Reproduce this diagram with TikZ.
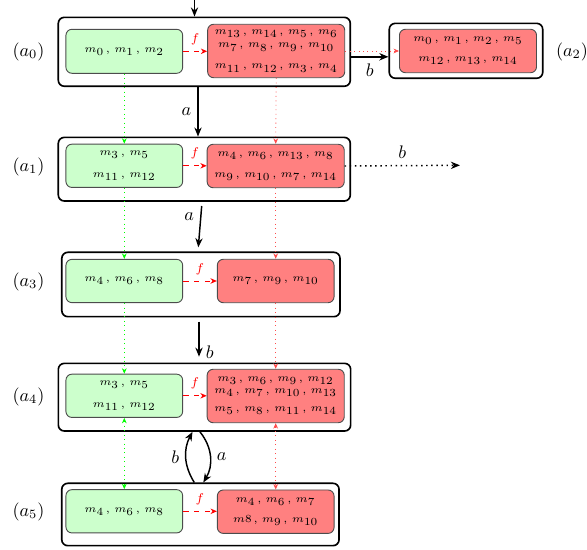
\documentclass[tikz,border=0pt]{standalone}
\usetikzlibrary{arrows.meta}
\DeclareMathSizes{6}{6}{6}{6}
\newcommand{\mysep}{\hspace{1pt},\hspace{1.2pt}}
\newcommand{\boxfont}{\fontsize{6}{7}\selectfont}
\begin{document}
\begin{tikzpicture}[x=0.55pt,y=-0.55pt,
  outer/.style={draw=black,line width=0.9pt,rounded corners=3.3pt,inner sep=0pt},
  gbox/.style={draw=black!70,fill=green!20,line width=0.5pt,rounded corners=3.3pt,inner sep=0pt,font=\boxfont,align=center,minimum width=64.2pt,minimum height=23.8pt},
  rbox/.style={draw=black!70,fill=red!50,line width=0.5pt,rounded corners=3.3pt,inner sep=0pt,font=\boxfont,align=center},
  rsmall/.style={rbox,minimum width=64.2pt,minimum height=23.9pt},
  rmid/.style={rbox,minimum width=75.4pt,minimum height=23.9pt},
  rbig/.style={rbox,minimum width=75.4pt,minimum height=29.4pt},
  lab/.style={font=\normalsize},
  arr/.style={-{Stealth[length=5pt,width=4pt]},line width=0.8pt},
  farr/.style={red,dashed,-{Stealth[length=3.5pt,width=3pt]},line width=0.5pt},
  flab/.style={font=\scriptsize,red},
  gdot/.style={green,dotted,line width=0.45pt,-{Stealth[length=3pt,width=2.6pt]}},
  rdot/.style={red!70,dotted,line width=0.45pt,-{Stealth[length=3pt,width=2.6pt]}},
  gdotb/.style={green,dotted,line width=0.45pt,{Stealth[length=3pt,width=2.6pt]}-{Stealth[length=3pt,width=2.6pt]}},
  rdotb/.style={red!70,dotted,line width=0.45pt,{Stealth[length=3pt,width=2.6pt]}-{Stealth[length=3pt,width=2.6pt]}}
]
\useasboundingbox (0,0) rectangle (587,550);

% outer boxes
\node[outer,minimum width=160.6pt,minimum height=37.9pt] (A0) at (204.3,51.8) {};
\node[outer,minimum width=160.6pt,minimum height=35.0pt] (A1) at (204.3,169.2) {};
\node[outer,minimum width=84.4pt,minimum height=30.2pt] (A2) at (466,50.8) {};
\node[outer,minimum width=153.0pt,minimum height=35.4pt] (A3) at (200.9,284.5) {};
\node[outer,minimum width=160.8pt,minimum height=37.2pt] (A4) at (204.5,397.2) {};
\node[outer,minimum width=152.5pt,minimum height=34.3pt] (A5) at (200.4,514.5) {};

% inner boxes
\node[gbox,minimum height=24.2pt] (G0) at (124.3,51.3) {$m_0\mysep m_1\mysep m_2$};
\node[rbig] (R0) at (276.2,51) {$m_{13}\mysep m_{14}\mysep m_5\mysep m_6$\\[0.3pt]$m_7\mysep m_8\mysep m_9\mysep m_{10}$\\[4.5pt]$m_{11}\mysep m_{12}\mysep m_3\mysep m_4$};
\node[rmid] (R2) at (468,51) {$m_0\mysep m_1\mysep m_2\mysep m_5$\\[4pt]$m_{12}\mysep m_{13}\mysep m_{14}$};
\node[gbox] (G1) at (124.3,165.8) {$m_3\mysep m_5$\\[4.9pt]$m_{11}\mysep m_{12}$};
\node[rmid] (R1) at (275.7,166) {$m_4\mysep m_6\mysep m_{13}\mysep m_8$\\[4.5pt]$m_9\mysep m_{10}\mysep m_7\mysep m_{14}$};
\node[gbox] (G3) at (124.3,281) {$m_4\mysep m_6\mysep m_8$};
\node[rsmall] (R3) at (275.7,281) {$m_7\mysep m_9\mysep m_{10}$};
\node[gbox] (G4) at (124.3,395.8) {$m_3\mysep m_5$\\[4.9pt]$m_{11}\mysep m_{12}$};
\node[rbig] (R4) at (275.7,396) {$m_3\mysep m_6\mysep m_9\mysep m_{12}$\\[-0.6pt]$m_4\mysep m_7\mysep m_{10}\mysep m_{13}$\\[3.1pt]$m_5\mysep m_8\mysep m_{11}\mysep m_{14}$};
\node[gbox] (G5) at (124.3,511.3) {$m_4\mysep m_6\mysep m_8$};
\node[rsmall] (R5) at (275.7,511.7) {$m_4\mysep m_6\mysep m_7$\\[4pt]$m8\mysep m_9\mysep m_{10}$};

% state labels
\node[lab] (L0) at (28.5,51.5) {$(a_0)$};
\node[lab] (L1) at (28.5,166.5) {$(a_1)$};
\node[lab] (L2) at (572,51.5) {$(a_2)$};
\node[lab] (L3) at (28.5,281.5) {$(a_3)$};
\node[lab] (L4) at (28.5,396.5) {$(a_4)$};
\node[lab] (L5) at (28.5,511.5) {$(a_5)$};

% f arrows
\draw[farr] (G0.east) -- node[flab,above] {$f$} (G0.east -| R0.west);
\draw[farr] (G1.east) -- node[flab,above] {$f$} (G1.east -| R1.west);
\draw[farr] (G3.east) -- node[flab,above] {$f$} (G3.east -| R3.west);
\draw[farr] (G4.east) -- node[flab,above] {$f$} (G4.east -| R4.west);
\draw[farr] (G5.east) -- node[flab,above] {$f$} (G5.east -| R5.west);

% dotted correspondences
\draw[gdot] (G0.south) -- (G1.north);
\draw[gdot] (G1.south) -- (G3.north);
\draw[gdot] (G3.south) -- (G4.north);
\draw[gdotb] (G4.south) -- (G5.north);
\draw[rdot] (R0.south) -- (R1.north);
\draw[rdot] (R1.south) -- (R3.north);
\draw[rdot] (R3.south) -- (R4.north);
\draw[rdotb] (R4.south) -- (R5.north);
\draw[rdot] (R0.east) -- (R2.west);

% transitions
\coordinate (top) at (194.5,0);
\coordinate (ca) at (198,0);
\draw[arr] (top) -- (top |- A0.north);
\draw[arr] (A0.south -| ca) -- node[left] {$a$} (A1.north -| ca);
\draw[arr] ([yshift=-2.75pt]A0.east) -- node[below] {$b$} ([yshift=-2.75pt]A0.east -| A2.west);
\coordinate (bend1) at (460,165.3);
\draw[line width=0.8pt,dotted,-{Stealth[length=5pt,width=4pt]}] (R1.east) -- node[above] {$b$} (bend1);
\coordinate (a13s) at (201.7,206);
\coordinate (a13e) at (198.3,247.3);
\draw[arr] (a13s) -- node[pos=0.25,left] {$a$} (a13e);
\coordinate (b34s) at (199,321.7);
\coordinate (b34e) at (199,356.7);
\draw[arr] (b34s) -- node[pos=0.88,right] {$b$} (b34e);
\draw[arr] ([xshift=-3.35pt]A5.north) to[bend left=30] node[left] {$b$} ([xshift=-6.6pt]A4.south);
\draw[arr] ([xshift=-2.5pt]A4.south) to[bend left=35] node[right] {$a$} ([xshift=1.6pt]A5.north);
\end{tikzpicture}
\end{document}
